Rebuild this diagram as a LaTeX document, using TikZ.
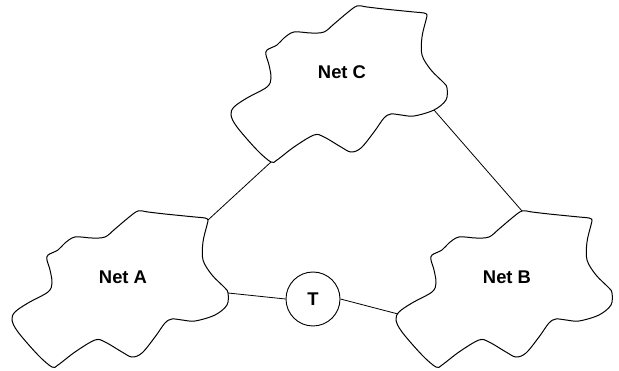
\documentclass[tikz,border=0pt]{standalone}
\usepackage{fontspec}
\setmainfont{Liberation Sans}
\usetikzlibrary{calc}

\tikzset{
  netcloud/.pic={
    \draw[line width=1pt] plot[smooth cycle, tension=0.55] coordinates {
      (-111,43) (-108,35) (-95,26) (-75,15) (-71,6) (-73,-7) (-76,-17) (-75,-22)
      (-65,-27) (-58,-34) (-48,-40) (-31,-39) (-18,-40) (-8,-48) (5,-59) (15,-66)
      (25,-65) (42,-63) (72,-60) (82,-59) (85,-57) (84,-52) (80,-35) (80,-17)
      (89,-2) (102,11) (105,16) (104,28) (92,38) (72,44) (59,43) (49,42)
      (42,46) (32,60) (19,76) (9,80) (-1,75) (-18,65) (-28,63) (-48,75)
      (-65,88) (-71,90) (-85,78) (-105,55)};
    \node[font=\bfseries\fontsize{18.4}{22}\selectfont] (-name) at (0,0) {#1};
    \coordinate (-top) at (15,-66);
    \coordinate (-ne) at (85,-57);
    \coordinate (-east) at (105,16);
    \coordinate (-se) at (92,38);
    \coordinate (-west) at (-109,37);
    \coordinate (-sw) at (-71,90);
  }
}

\begin{document}
\begin{tikzpicture}[x=1pt, y=-1pt]
  \useasboundingbox (0,0) rectangle (619,371);
  \pic (A) at (123,277) {netcloud={Net A}};
  \pic (B) at (507,277) {netcloud={Net B}};
  \pic (C) at (342,72) {netcloud={Net C}};
  \node[draw, circle, minimum size=54pt, inner sep=0pt, line width=0.9pt, font=\bfseries\fontsize{18.4}{22}\selectfont] (T) at (313,299) {T};

  \draw[line width=0.8pt] (A-ne) -- (C-sw);
  \draw[line width=0.8pt] (C-se) -- (B-top);
  \draw[line width=0.8pt] (A-east) -- (T.west);
  \draw[line width=0.8pt] (T.east) -- (B-west);
\end{tikzpicture}
\end{document}
